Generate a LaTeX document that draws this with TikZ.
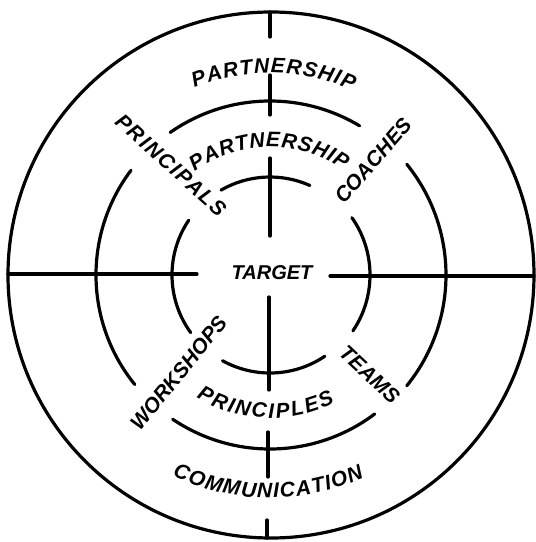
\documentclass[tikz,border=0pt]{standalone}
\usepackage{fontspec}
\setmainfont{Liberation Sans}
\usetikzlibrary{decorations.text}

\newcommand{\wordfont}{\fontsize{21}{24}\selectfont\bfseries\itshape}
\tikzset{
  ring/.style={line width=3.2pt, line cap=round},
  word/.style={font=\wordfont, inner sep=0pt},
  arcword/.style={decorate, decoration={text along path, text align=fit to path, text={|\wordfont|#1}}},
}

\begin{document}
\begin{tikzpicture}[x=1pt,y=1pt]
  \useasboundingbox (-270,-267) rectangle (266,275);

  % 外圆
  \draw[ring] (1,0) circle[radius=263pt];

  % 十字线
  \draw[ring] (-262,1) -- (-73,1);
  \draw[ring] (60,-1) -- (264,-1);
  \draw[ring] (0,263) -- (0,238);
  \draw[ring] (0,200) -- (0,160);
  \draw[ring] (0,117) -- (0,39);
  \draw[ring] (-1,-22) -- (-1,-115);
  \draw[ring] (-2,-157) -- (-2,-202);
  \draw[ring] (-3,-245) -- (-3,-263);

  % 中圈圆弧
  \draw[ring] (125:174pt) arc[start angle=125, end angle=59, radius=174pt];
  \draw[ring] (143:174pt) arc[start angle=143, end angle=219, radius=174pt];
  \draw[ring] (236:174pt) arc[start angle=236, end angle=307, radius=174pt];
  \draw[ring] (-39:176pt) arc[start angle=-39, end angle=39, radius=176pt];

  % 内圈圆弧
  \draw[ring] (120:98pt) arc[start angle=120, end angle=66, radius=98pt];
  \draw[ring] (146:98pt) arc[start angle=146, end angle=216, radius=98pt];
  \draw[ring] (241:98pt) arc[start angle=241, end angle=304, radius=98pt];
  \draw[ring] (-34:100pt) arc[start angle=-34, end angle=35, radius=100pt];

  % 弧形文字
  \path[arcword=PARTNERSHIP] (112:202pt) arc[start angle=112, end angle=66, radius=202pt];
  \path[arcword=PARTNERSHIP] (126:128pt) arc[start angle=126, end angle=55, radius=128pt];
  \path[arcword=PRINCIPLES] (239:143pt) arc[start angle=239, end angle=297, radius=143pt];
  \path[arcword=COMMUNICATION] (244:223pt) arc[start angle=244, end angle=295, radius=223pt];

  % 斜向文字
  \node[word, font=\wordfont\addfontfeatures{LetterSpace=8}, rotate=-42] (principals) at (132:148pt) {PRINCIPALS};
  \node[word, rotate=49] (coaches) at (48:154pt) {COACHES};
  \node[word, rotate=51] (workshops) at (227:134pt) {WORKSHOPS};
  \node[word, rotate=-43] (teams) at (-45:141pt) {TEAMS};
  \node[word, font=\fontsize{20}{22}\selectfont\bfseries\itshape] (target) at (2,2) {TARGET};
\end{tikzpicture}
\end{document}
